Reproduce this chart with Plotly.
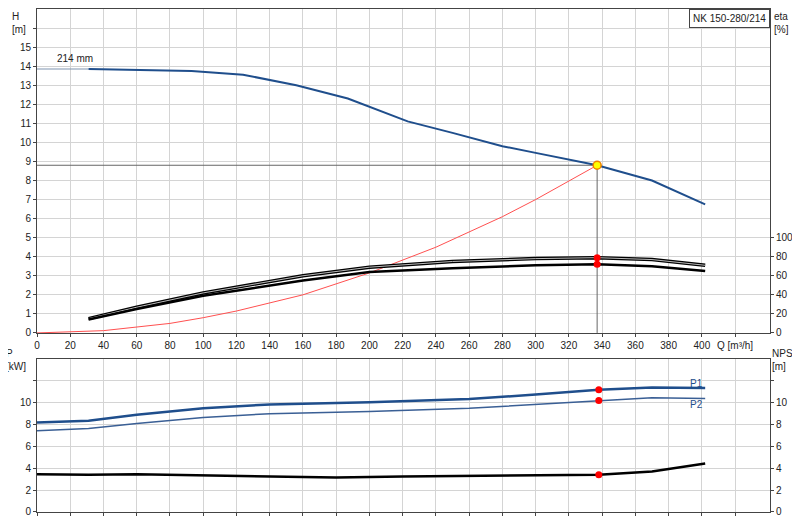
import plotly.graph_objects as go

# head curve (214 mm impeller)
q_head = [31, 62, 93, 124, 156, 187, 223, 250, 280, 300, 337, 370, 402]
h_head = [13.85, 13.8, 13.75, 13.55, 13.0, 12.3, 11.1, 10.5, 9.8, 9.45, 8.8, 8.0, 6.75]

# efficiency curves, in %
q_eta = [31, 60, 100, 130, 160, 200, 250, 300, 337, 370, 402]
eta_upper = [15, 27, 42, 51, 60, 69, 75, 78, 79, 77, 71]
eta_lower = [14, 25, 39, 47, 55, 64, 68, 71, 72, 70, 65]

# system curve
q_sys = [0, 40, 80, 100, 120, 160, 200, 240, 280, 300, 337]
h_sys = [0, 0.12, 0.5, 0.8, 1.15, 2.0, 3.15, 4.5, 6.1, 7.0, 8.8]

# power and NPSH
q_low = [0, 31, 60, 100, 140, 200, 260, 300, 338, 370, 402]
p1 = [8.2, 8.35, 8.9, 9.5, 9.85, 10.05, 10.35, 10.75, 11.2, 11.4, 11.35]
p2 = [7.45, 7.65, 8.1, 8.65, 9.0, 9.2, 9.5, 9.85, 10.2, 10.45, 10.4]
q_npsh = [0, 31, 60, 100, 140, 180, 220, 260, 300, 338, 370, 402]
npsh = [3.45, 3.4, 3.45, 3.35, 3.2, 3.15, 3.25, 3.3, 3.35, 3.4, 3.7, 4.45]

duty_q, duty_h = 337, 8.8
duty_eta = [79, 72]
duty_p = [11.2, 10.2]
duty_npsh = 3.4

blue = "#1f4e8c"
font = dict(family="Liberation Sans, Arial", size=10, color="#222")
fig = go.Figure()

# top plot
fig.add_trace(go.Scatter(x=[0, duty_q, duty_q], y=[duty_h, duty_h, 0], mode="lines",
                         line=dict(color="#666", width=1), xaxis="x", yaxis="y"))
fig.add_trace(go.Scatter(x=[0, q_head[0]], y=[h_head[0], h_head[0]], mode="lines",
                         line=dict(color="#7f93b0", width=1.2), xaxis="x", yaxis="y"))
fig.add_trace(go.Scatter(x=q_head, y=h_head, mode="lines", line=dict(color=blue, width=2),
                         xaxis="x", yaxis="y"))
fig.add_trace(go.Scatter(x=q_sys, y=h_sys, mode="lines", line=dict(color="#ff5050", width=1),
                         xaxis="x", yaxis="y"))
fig.add_trace(go.Scatter(x=q_eta, y=eta_upper, mode="lines", line=dict(color="black", width=3.5),
                         xaxis="x", yaxis="y2"))
fig.add_trace(go.Scatter(x=q_eta, y=eta_upper, mode="lines", line=dict(color="#bbb", width=1),
                         xaxis="x", yaxis="y2"))
fig.add_trace(go.Scatter(x=q_eta, y=eta_lower, mode="lines", line=dict(color="black", width=2.5),
                         xaxis="x", yaxis="y2"))
fig.add_trace(go.Scatter(x=[duty_q, duty_q], y=duty_eta, mode="markers",
                         marker=dict(color="red", size=7), xaxis="x", yaxis="y2"))
fig.add_trace(go.Scatter(x=[duty_q], y=[duty_h], mode="markers",
                         marker=dict(color="yellow", size=8, line=dict(color="#f08000", width=1.5)),
                         xaxis="x", yaxis="y"))

# bottom plot
fig.add_trace(go.Scatter(x=q_low, y=p2, mode="lines", line=dict(color="#3a5f95", width=1.5),
                         xaxis="x2", yaxis="y3"))
fig.add_trace(go.Scatter(x=q_low, y=p1, mode="lines", line=dict(color=blue, width=2.5),
                         xaxis="x2", yaxis="y3"))
fig.add_trace(go.Scatter(x=q_npsh, y=npsh, mode="lines", line=dict(color="black", width=2.5),
                         xaxis="x2", yaxis="y4"))
fig.add_trace(go.Scatter(x=[338, 338], y=duty_p, mode="markers", marker=dict(color="red", size=7),
                         xaxis="x2", yaxis="y3"))
fig.add_trace(go.Scatter(x=[338], y=[duty_npsh], mode="markers", marker=dict(color="red", size=7),
                         xaxis="x2", yaxis="y4"))

xticks = list(range(0, 421, 20))
xtext = [str(v) for v in xticks[:-1]] + ["Q [m³/h]"]
grid = "#d4d4d4"
xcommon = dict(range=[0, 441], tickvals=xticks, showgrid=True, gridcolor=grid, automargin=False,
               showline=True, linecolor="#444", mirror=True, zeroline=False, ticks="outside",
               ticklen=3, tickfont=font)
ycommon = dict(showline=True, linecolor="#444", ticks="outside", ticklen=3, zeroline=False,
               tickfont=font, automargin=False)

htick = list(range(0, 17))
fig.update_layout(
    width=800, height=520, showlegend=False, plot_bgcolor="white", paper_bgcolor="white",
    margin=dict(l=29, r=38, t=1, b=16), font=font,
    xaxis=dict(**xcommon, ticktext=xtext, anchor="y", domain=[0, 1]),
    yaxis=dict(**ycommon, range=[0, 17], tickvals=htick,
               ticktext=[str(v) if v <= 15 else "" for v in htick],
               domain=[0.356, 1], showgrid=True, gridcolor=grid),
    yaxis2=dict(**ycommon, range=[0, 340], tickvals=[0, 20, 40, 60, 80, 100], overlaying="y",
                side="right", showgrid=False),
    xaxis2=dict(**xcommon, ticktext=[""] * len(xticks), anchor="y3"),
    yaxis3=dict(**ycommon, range=[0, 14], tickvals=[0, 2, 4, 6, 8, 10, 12],
                ticktext=["0", "2", "4", "6", "8", "10", ""],
                domain=[0, 0.304], showgrid=True, gridcolor=grid),
    yaxis4=dict(**ycommon, range=[0, 14], tickvals=[0, 2, 4, 6, 8, 10, 12],
                ticktext=["0", "2", "4", "6", "8", "10", ""],
                overlaying="y3", side="right", anchor="x2", showgrid=False),
)

ann = [
    dict(text="H<br>[m]", x=-0.012, y=1.0, xanchor="right", yanchor="top"),
    dict(text="eta<br>[%]", x=1.003, y=1.0, xanchor="left", yanchor="top"),
    dict(text="P<br>[kW]", x=-0.012, y=0.33, xanchor="right", yanchor="top"),
    dict(text="NPSH<br>[m]", x=1.0, y=0.33, xanchor="left", yanchor="top"),
]
for a in ann:
    fig.add_annotation(xref="paper", yref="paper", showarrow=False, align="left", font=font, **a)
fig.add_annotation(x=11, y=14.4, xref="x", yref="y", text="214 mm", showarrow=False,
                   xanchor="left", font=font)
fig.add_annotation(x=1.0, y=1.0, xref="x domain", yref="y domain", text="NK 150-280/214",
                   showarrow=False, xanchor="right", yanchor="top", font=font,
                   bordercolor="#444", borderwidth=1, bgcolor="white", borderpad=3)
fig.add_annotation(x=402, y=11.8, xref="x2", yref="y3", text="P1", showarrow=False,
                   xanchor="right", font=dict(family=font["family"], size=10, color=blue))
fig.add_annotation(x=402, y=9.8, xref="x2", yref="y3", text="P2", showarrow=False,
                   xanchor="right", font=dict(family=font["family"], size=10, color=blue))

fig.write_html("out.html")
